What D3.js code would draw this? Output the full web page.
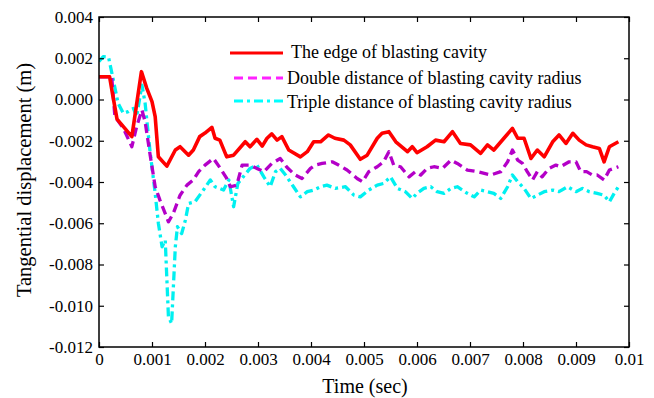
<!DOCTYPE html>
<html>
<head>
<meta charset="utf-8">
<script src="https://cdn.jsdelivr.net/npm/d3@7"></script>
<style>
  html, body { margin: 0; padding: 0; background: #fff; }
  svg { display: block; }
  svg text { font-family: "Liberation Serif", "Times New Roman", serif; fill: #000; }
</style>
</head>
<body>
<svg id="chart" width="654" height="398"></svg>
<script>
// Tangential displacement (units of 0.001 m) against time (s)
const timeEdge = [0, 0.0002, 0.00026, 0.00034, 0.00062, 0.0008, 0.0009, 0.001, 0.00106, 0.00112, 0.00128, 0.00144,
  0.00153, 0.00169, 0.00178, 0.0019, 0.002, 0.00213, 0.00219, 0.00228, 0.00241, 0.00254, 0.00276, 0.00285, 0.00298,
  0.00308, 0.00317, 0.00326, 0.00336, 0.00345, 0.00358, 0.0038, 0.00393, 0.00405, 0.00418, 0.00433, 0.00445, 0.00462,
  0.00474, 0.00493, 0.00506, 0.00525, 0.00534, 0.00547, 0.0056, 0.00582, 0.00591, 0.006, 0.00619, 0.00635, 0.00651,
  0.00667, 0.00682, 0.00701, 0.0072, 0.00733, 0.00745, 0.00764, 0.0078, 0.0079, 0.00802, 0.00815, 0.00827, 0.0084,
  0.00856, 0.00868, 0.00881, 0.00894, 0.00906, 0.00919, 0.00931, 0.00944, 0.00953, 0.00963, 0.0098];
const dispEdge = [1.1, 1.1, 0.2, -0.95, -1.8, 1.35, 0.55, -0.1, -0.83, -2.78, -3.23, -2.45,
  -2.29, -2.7, -2.45, -1.8, -1.63, -1.35, -1.88, -1.97, -2.78, -2.7, -2.05, -2.29, -1.93,
  -2.26, -1.88, -1.67, -1.97, -1.8, -2.45, -2.78, -2.53, -2.05, -2.05, -1.72, -1.88, -1.97,
  -2.2, -2.9, -2.7, -1.88, -1.64, -1.56, -2.05, -2.53, -2.29, -2.58, -2.29, -1.97, -2.05,
  -1.56, -2.13, -2.2, -2.61, -2.2, -2.45, -1.88, -1.4, -1.88, -1.88, -2.86, -2.45, -2.78,
  -2.05, -1.72, -2.13, -1.64, -1.97, -2.2, -2.29, -2.37, -3.02, -2.29, -2.05];

const timeDouble = [0, 0.00024, 0.0003, 0.00046, 0.00062, 0.00071, 0.00081, 0.00087, 0.00096, 0.00106, 0.00115,
  0.00131, 0.0014, 0.00153, 0.00166, 0.00178, 0.00188, 0.002, 0.00216, 0.00229, 0.00241, 0.00248, 0.0026, 0.0027,
  0.00285, 0.00298, 0.00311, 0.00326, 0.00342, 0.00355, 0.0037, 0.00383, 0.00399, 0.00408, 0.00421, 0.0044, 0.00452,
  0.00468, 0.00487, 0.00497, 0.00509, 0.00525, 0.00537, 0.00547, 0.00556, 0.00569, 0.00585, 0.00597, 0.00607,
  0.00619, 0.00632, 0.00648, 0.00664, 0.00676, 0.00695, 0.00714, 0.00739, 0.00758, 0.00771, 0.0078, 0.0079, 0.00799,
  0.00808, 0.00818, 0.00827, 0.00836, 0.00849, 0.00862, 0.00871, 0.00887, 0.009, 0.00909, 0.0092, 0.00931, 0.0094,
  0.00953, 0.00963, 0.0098];
const dispDouble = [1.1, 1.1, -0.83, -1.4, -2.29, -1.32, -0.51, -1.08, -2.61, -4.23, -4.88,
  -5.93, -5.53, -4.64, -4.15, -3.9, -3.5, -3.18, -2.86, -3.34, -3.83, -4.23, -4.15, -3.18,
  -3.18, -3.34, -3.5, -3.1, -2.86, -3.3, -3.66, -3.83, -3.34, -3.18, -3.1, -3.02, -3.18,
  -3.42, -3.83, -3.99, -3.5, -3.26, -3.02, -2.53, -3.18, -3.26, -3.75, -3.5, -3.66,
  -3.34, -3.26, -3.34, -2.94, -3.1, -3.42, -3.5, -3.66, -3.5, -3.02, -2.45, -2.94, -3.1,
  -3.5, -3.9, -3.5, -3.75, -3.34, -3.18, -3.26, -3.02, -3.02, -3.5, -3.5, -3.66, -3.66,
  -3.9, -3.42, -3.26];

const timeTriple = [0, 0.00008, 0.00018, 0.00027, 0.00036, 0.00046, 0.00055, 0.00065, 0.00071, 0.00081, 0.00087,
  0.00096, 0.00106, 0.00112, 0.00119, 0.00125, 0.00131, 0.00137, 0.00144, 0.00148, 0.00156, 0.00163, 0.00169,
  0.00181, 0.00197, 0.0021, 0.00219, 0.00235, 0.00245, 0.00254, 0.00262, 0.00272, 0.00285, 0.00298, 0.00311,
  0.00323, 0.00333, 0.00342, 0.00352, 0.00367, 0.0038, 0.00393, 0.00405, 0.00418, 0.0043, 0.00446, 0.00465, 0.00481,
  0.00493, 0.00509, 0.00525, 0.00537, 0.0055, 0.00563, 0.00578, 0.00591, 0.006, 0.00613, 0.00626, 0.00638, 0.00651,
  0.00664, 0.00676, 0.00695, 0.00708, 0.0072, 0.00733, 0.00745, 0.00758, 0.00771, 0.0078, 0.0079, 0.00802, 0.00815,
  0.00827, 0.0084, 0.00856, 0.00868, 0.00884, 0.009, 0.00912, 0.00925, 0.0094, 0.00953, 0.00963, 0.00972, 0.0098];
const dispTriple = [1.84, 2.08, 2.05, 0.95, -0.18, -0.67, -0.59, -0.43, -0.83, 0.7, -0.18,
  -2.45, -4.55, -6.0, -7.14, -6.82, -10.54, -10.86, -7.14, -6.17, -6.5, -5.85, -5.04,
  -4.96, -4.39, -3.9, -4.23, -4.39, -3.9, -5.2, -4.07, -3.75, -3.34, -3.18, -3.75,
  -4.23, -3.5, -3.34, -3.66, -4.23, -4.72, -4.47, -4.39, -4.23, -4.15, -4.31, -4.23, -4.64,
  -4.72, -4.39, -4.15, -4.07, -3.75, -4.31, -4.47, -4.8, -4.55, -4.31, -4.23, -4.47, -4.55,
  -4.31, -4.23, -4.55, -4.72, -4.39, -4.47, -4.55, -4.8, -4.23, -3.66, -3.99, -4.31, -4.8,
  -4.64, -4.47, -4.39, -4.47, -4.23, -4.47, -4.31, -4.47, -4.55, -4.64, -4.96, -4.55, -4.23];

const xTicks = [0, 0.001, 0.002, 0.003, 0.004, 0.005, 0.006, 0.007, 0.008, 0.009, 0.01];
const xTickLabels = ["0", "0.001", "0.002", "0.003", "0.004", "0.005", "0.006", "0.007", "0.008", "0.009", "0.01"];
const yTicks = [0.004, 0.002, 0, -0.002, -0.004, -0.006, -0.008, -0.010, -0.012];
const yTickLabels = ["0.004", "0.002", "0.000", "-0.002", "-0.004", "-0.006", "-0.008", "-0.010", "-0.012"];

const seriesNames = ["The edge of blasting cavity", "Double distance of blasting cavity radius", "Triple distance of blasting cavity radius"];

const FONT = "'Liberation Serif', 'Times New Roman', serif";

const svg = d3.select("#chart");
const margin = { left: 99, top: 17, right: 654 - 629, bottom: 398 - 347 };
const W = 654 - margin.left - margin.right;
const H = 398 - margin.top - margin.bottom;

const x = d3.scaleLinear().domain([0, 0.01]).range([0, W]);
const y = d3.scaleLinear().domain([-0.012, 0.004]).range([H, 0]);

const g = svg.append("g").attr("transform", `translate(${margin.left},${margin.top})`);

const series = [
  { t: timeEdge, v: dispEdge, color: "#ff0000", dash: null, legendColor: "#ff0000", width: 3.6 },
  { t: timeDouble, v: dispDouble, color: "#b400c8", dash: "9,5", legendColor: "#ff22ff", width: 3.3 },
  { t: timeTriple, v: dispTriple, color: "#00f0f0", dash: "9,4,3,4", legendColor: "#00ffff", width: 3.3 }
];

g.append("clipPath").attr("id", "plotclip")
  .append("rect").attr("width", W).attr("height", H);

const line = d3.line().x(d => x(d[0])).y(d => y(d[1] / 1000)).curve(d3.curveLinear);

// triple first, edge on top
[2, 1, 0].forEach(i => {
  const s = series[i];
  const pts = s.t.map((t, k) => [t, s.v[k]]);
  g.append("path")
    .datum(pts)
    .attr("clip-path", "url(#plotclip)")
    .attr("fill", "none")
    .attr("stroke", s.color)
    .attr("stroke-width", s.width)
    .attr("stroke-linejoin", "round")
    .attr("stroke-dasharray", s.dash)
    .attr("d", line);
});

// inward ticks on all four sides
const bottomAxis = d3.axisBottom(x).tickValues(xTicks).tickFormat((d, i) => xTickLabels[i]).tickSizeInner(-5).tickSizeOuter(0).tickPadding(6);
const topAxis = d3.axisTop(x).tickValues(xTicks).tickFormat("").tickSizeInner(-5).tickSizeOuter(0);
const leftAxis = d3.axisLeft(y).tickValues(yTicks).tickFormat((d, i) => yTickLabels[i]).tickSizeInner(-5).tickSizeOuter(0).tickPadding(6);
const rightAxis = d3.axisRight(y).tickValues(yTicks).tickFormat("").tickSizeInner(-5).tickSizeOuter(0);

function style(sel) {
  sel.attr("font-family", FONT).attr("font-size", 17);
  sel.select(".domain").remove();
  sel.selectAll("line").attr("stroke", "#000").attr("stroke-width", 1.2);
  sel.selectAll("text").style("font-family", FONT).style("font-size", "17px").attr("fill", "#000");
}
g.append("g").attr("transform", `translate(0,${H})`).call(bottomAxis).call(style);
g.append("g").call(topAxis).call(style);
g.append("g").call(leftAxis).call(style);
g.append("g").attr("transform", `translate(${W},0)`).call(rightAxis).call(style);

g.append("rect").attr("width", W).attr("height", H)
  .attr("fill", "none").attr("stroke", "#000").attr("stroke-width", 1.5);

// axis titles
svg.append("text").attr("x", margin.left + W / 2 + 1).attr("y", 393)
  .attr("text-anchor", "middle").style("font-family", FONT).style("font-size", "20px").text("Time (sec)");
svg.append("text")
  .attr("transform", `translate(31,180) rotate(-90)`)
  .attr("text-anchor", "middle").style("font-family", FONT).style("font-size", "20.5px").text("Tangential displacement (m)");

// legend
const legendRows = [
  { y: 53, x0: 230, x1: 283, tx: 291, ty: 58 },
  { y: 78, x0: 234, x1: 283, tx: 287, ty: 84 },
  { y: 101, x0: 234, x1: 283, tx: 287, ty: 108 }
];
legendRows.forEach((r, i) => {
  const s = series[i];
  svg.append("line").attr("x1", r.x0).attr("x2", r.x1).attr("y1", r.y).attr("y2", r.y)
    .attr("stroke", s.legendColor).attr("stroke-width", 3).attr("stroke-dasharray", s.dash);
  svg.append("text").attr("x", r.tx).attr("y", r.ty)
    .style("font-family", FONT).style("font-size", "18px").text(seriesNames[i]);
});
</script>
</body>
</html>
